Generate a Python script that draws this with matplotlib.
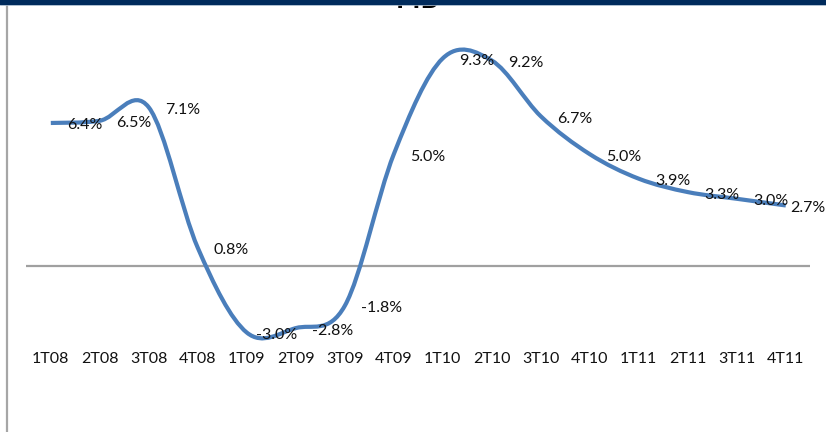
import matplotlib
matplotlib.use("Agg")
import matplotlib.pyplot as plt
import numpy as np
from matplotlib.path import Path
from matplotlib.patches import PathPatch, Rectangle
from matplotlib.lines import Line2D

plt.rcParams['font.family'] = ['Lato', 'DejaVu Sans']

# Quarterly GDP growth (year-on-year, %)
quarters = ["1T08", "2T08", "3T08", "4T08", "1T09", "2T09", "3T09", "4T09",
            "1T10", "2T10", "3T10", "4T10", "1T11", "2T11", "3T11", "4T11"]
gdp_growth = [6.4, 6.5, 7.1, 0.8, -3.0, -2.8, -1.8, 5.0,
              9.3, 9.2, 6.7, 5.0, 3.9, 3.3, 3.0, 2.7]
title = "PIB"

W, H, DPI = 826, 432, 100
fig = plt.figure(figsize=(W / DPI, H / DPI), dpi=DPI)
fig.patch.set_facecolor("white")

# plot area in pixels
left_px, right_px = 26.3, 810.3
top_px, bottom_px = 31.55, 350.4
ax = fig.add_axes([left_px / W, (H - bottom_px) / H,
                   (right_px - left_px) / W, (bottom_px - top_px) / H])
ax.set_xlim(-0.5, len(quarters) - 0.5)
ax.set_ylim(-3.8, 10.5)
ax.axis("off")

# smoothed line (Catmull-Rom style cubic Bezier segments)
x = np.arange(len(gdp_growth), dtype=float)
y = np.asarray(gdp_growth, dtype=float)
pts = np.column_stack([x, y])
verts = [pts[0]]
codes = [Path.MOVETO]
n = len(pts)
for i in range(n - 1):
    p_prev = pts[max(i - 1, 0)]
    p0 = pts[i]
    p1 = pts[i + 1]
    p_next = pts[min(i + 2, n - 1)]
    c1 = p0 + (p1 - p_prev) / 6.0
    c2 = p1 - (p_next - p0) / 6.0
    verts += [c1, c2, p1]
    codes += [Path.CURVE4] * 3
curve = PathPatch(Path(verts, codes), facecolor="none", edgecolor="#4A7EBB",
                  lw=3.0, capstyle="butt", joinstyle="round", zorder=3)
curve.set_clip_on(False)
ax.add_patch(curve)

# zero line
ax.axhline(0, color="#A0A0A0", lw=1.6, zorder=1)

# data labels, to the right of each point
label_dx = {4: 6.5, 15: 3.0}
for i, v in enumerate(gdp_growth):
    dx = label_dx.get(i, 11.5)
    ax.annotate(f"{v:.1f}%", (i, v), xytext=(dx, -1.8), textcoords="offset points",
                ha="left", va="center", fontsize=11.5, color="#111111",
                annotation_clip=False, zorder=4)

# category labels along the bottom of the plot area
for i, q in enumerate(quarters):
    ax.annotate(q, (i, 0), xycoords=("data", "axes fraction"),
                xytext=(0, -1), textcoords="offset points",
                ha="center", va="top", fontsize=11.5, color="#111111",
                annotation_clip=False)

# frame elements: left rule, header band and title
fig.add_artist(Line2D([7 / W, 7 / W], [0, 1 - 5 / H], transform=fig.transFigure,
                      color="#A6A6A6", lw=1.6))
fig.text(418 / W, 1 - 8.5 / H, title, ha="center", va="baseline",
         fontsize=20, fontweight="bold", color="black", zorder=2)
fig.add_artist(Rectangle((0, 1 - 4.5 / H), 1, 4.5 / H, transform=fig.transFigure,
                         facecolor="#002B5C", edgecolor="none", zorder=5))
fig.add_artist(Line2D([0, 1], [1 - 5 / H, 1 - 5 / H], transform=fig.transFigure,
                      color="#9FB3C8", lw=0.6, zorder=5))

fig.savefig("out.png", dpi=DPI, facecolor="white")
